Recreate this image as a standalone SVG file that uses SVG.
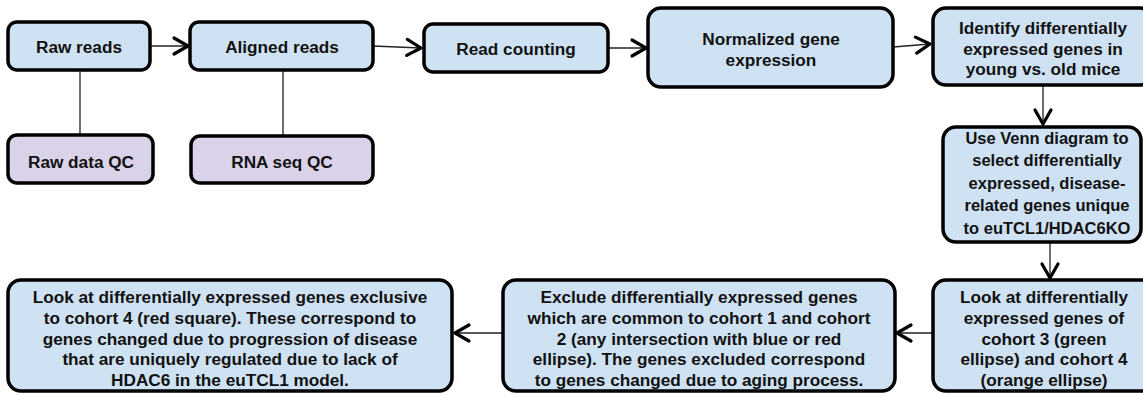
<svg xmlns="http://www.w3.org/2000/svg" width="1143" height="393" viewBox="0 0 1143 393">
<style>
.box{fill:#cfe2f3;stroke:#000;stroke-width:3.5}
.qc{fill:#d9d2e9;stroke:#000;stroke-width:3.5}
.t{font-family:"Liberation Sans",Arial,sans-serif;font-weight:bold;font-size:17.2px;fill:#111;text-anchor:middle}
.tv{font-size:16.5px}
.ln{stroke:#222;stroke-width:1.3;fill:none}
</style>
<defs>
<marker id="ah" markerUnits="userSpaceOnUse" markerWidth="24" markerHeight="24" viewBox="-20 -12 24 24" refX="0" refY="0" orient="auto">
<path d="M-14,-8 L0,0 L-14,8" fill="none" stroke="#000" stroke-width="3.2" stroke-linecap="round" stroke-linejoin="round"/>
</marker>
</defs>
<g id="connectors">
<line class="ln" x1="150" y1="46" x2="188" y2="46" marker-end="url(#ah)"/>
<line class="ln" x1="373" y1="46" x2="421" y2="48" marker-end="url(#ah)"/>
<line class="ln" x1="608" y1="48" x2="646" y2="48" marker-end="url(#ah)"/>
<line class="ln" x1="893" y1="47" x2="930" y2="44" marker-end="url(#ah)"/>
<line class="ln" x1="1043" y1="85" x2="1043" y2="124" marker-end="url(#ah)"/>
<line class="ln" x1="1050" y1="242" x2="1050" y2="278" marker-end="url(#ah)"/>
<line class="ln" x1="933" y1="333" x2="897" y2="333" marker-end="url(#ah)"/>
<line class="ln" x1="503" y1="333" x2="455" y2="333" marker-end="url(#ah)"/>
<line class="ln" x1="80" y1="70" x2="80" y2="135"/>
<line class="ln" x1="283" y1="70" x2="283" y2="136"/>
</g>
<g id="raw-reads">
<rect class="box" x="8" y="22" width="142" height="48" rx="9"/>
<text class="t" x="79" y="53">Raw reads</text>
</g>
<g id="aligned-reads">
<rect class="box" x="190" y="22" width="183" height="48" rx="9"/>
<text class="t" x="282" y="53">Aligned reads</text>
</g>
<g id="raw-data-qc">
<rect class="qc" x="8" y="135" width="145" height="48" rx="9"/>
<text class="t" x="81" y="168">Raw data QC</text>
</g>
<g id="rna-seq-qc">
<rect class="qc" x="191" y="136" width="182" height="47" rx="9"/>
<text class="t" x="282" y="168">RNA seq QC</text>
</g>
<g id="read-counting">
<rect class="box" x="424" y="24" width="184" height="48" rx="9"/>
<text class="t" x="516" y="55">Read counting</text>
</g>
<g id="normalized">
<rect class="box" x="648" y="8" width="245" height="79" rx="13"/>
<text class="t" x="771" y="45">Normalized gene</text>
<text class="t" x="771" y="65.5">expression</text>
</g>
<g id="identify">
<rect class="box" x="933" y="8" width="220" height="77" rx="13"/>
<text class="t" x="1043" y="34">Identify differentially</text>
<text class="t" x="1043" y="54.5">expressed genes in</text>
<text class="t" x="1043" y="75">young vs. old mice</text>
</g>
<g id="venn">
<rect class="box" x="943" y="127" width="198" height="115" rx="13"/>
<text class="t tv" x="1047" y="143.5">Use Venn diagram to</text>
<text class="t tv" x="1047" y="166">select differentially</text>
<text class="t tv" x="1047" y="188.5">expressed, disease-</text>
<text class="t tv" x="1047" y="211">related genes unique</text>
<text class="t tv" x="1047" y="233.5">to euTCL1/HDAC6KO</text>
</g>
<g id="cohort34">
<rect class="box" x="933" y="280" width="222" height="111" rx="13"/>
<text class="t" x="1044" y="303">Look at differentially</text>
<text class="t" x="1044" y="323.75">expressed genes of</text>
<text class="t" x="1044" y="344.5">cohort 3 (green</text>
<text class="t" x="1044" y="365.25">ellipse) and cohort 4</text>
<text class="t" x="1044" y="386">(orange ellipse)</text>
</g>
<g id="exclude">
<rect class="box" x="503" y="280" width="392" height="111" rx="13"/>
<text class="t" x="699" y="303">Exclude differentially expressed genes</text>
<text class="t" x="699" y="323.75">which are common to cohort 1 and cohort</text>
<text class="t" x="699" y="344.5">2 (any intersection with blue or red</text>
<text class="t" x="699" y="365.25">ellipse). The genes excluded correspond</text>
<text class="t" x="699" y="386">to genes changed due to aging process.</text>
</g>
<g id="exclusive">
<rect class="box" x="8" y="280" width="444" height="111" rx="13"/>
<text class="t" x="230" y="303">Look at differentially expressed genes exclusive</text>
<text class="t" x="230" y="323.75">to cohort 4 (red square). These correspond to</text>
<text class="t" x="230" y="344.5">genes changed due to progression of disease</text>
<text class="t" x="230" y="365.25">that are uniquely regulated due to lack of</text>
<text class="t" x="230" y="386">HDAC6 in the euTCL1 model.</text>
</g>
</svg>
